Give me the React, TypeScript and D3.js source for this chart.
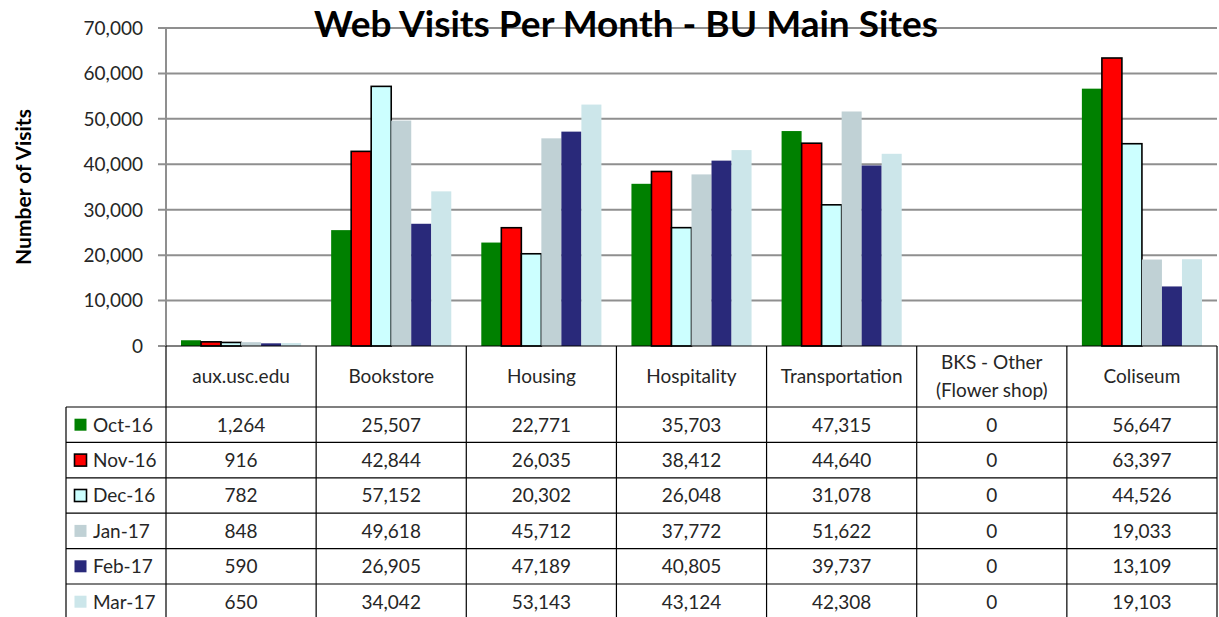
import React from "react";
import * as d3 from "d3";

const categories = ["aux.usc.edu", "Bookstore", "Housing", "Hospitality", "Transportation", "BKS - Other\n(Flower shop)", "Coliseum"];
const months = ["Oct-16", "Nov-16", "Dec-16", "Jan-17", "Feb-17", "Mar-17"];
const oct16 = [1264, 25507, 22771, 35703, 47315, 0, 56647];
const nov16 = [916, 42844, 26035, 38412, 44640, 0, 63397];
const dec16 = [782, 57152, 20302, 26048, 31078, 0, 44526];
const jan17 = [848, 49618, 45712, 37772, 51622, 0, 19033];
const feb17 = [590, 26905, 47189, 40805, 39737, 0, 13109];
const mar17 = [650, 34042, 53143, 43124, 42308, 0, 19103];
const yTicks = [0, 10000, 20000, 30000, 40000, 50000, 60000, 70000];
const colors = ["#008000", "#FF0000", "#CCFFFF", "#C0D1D5", "#29297A", "#CCE6EA"];
const outlined = [false, true, true, false, false, false];

const series = [oct16, nov16, dec16, jan17, feb17, mar17];

export default function App() {
  const W = 1219, H = 617;
  const plotL = 166, plotR = 1217, plotT = 28, plotB = 346;
  const tableL = 66;
  const headerB = 407;
  const rowH = 35.4;
  const font = "Lato, 'Open Sans', sans-serif";

  const x0 = d3.scaleBand<string>().domain(categories).range([plotL, plotR]).padding(0);
  const bw = x0.bandwidth();
  const x1 = d3.scaleBand<string>().domain(months).range([bw * 0.1, bw * 0.9]).padding(0);
  const y = d3.scaleLinear().domain([0, 70000]).range([plotB, plotT]);
  const fmt = d3.format(",");

  const rowTop = (i: number) => headerB + i * rowH;

  return (
    <svg width={W} height={H} style={{ position: "absolute", left: 0, top: 0, background: "#fff" }} fontFamily={font}>
      {/* gridlines */}
      {yTicks.map((t) => (
        <g key={t}>
          {t > 0 && <line x1={158} x2={plotR} y1={y(t)} y2={y(t)} stroke="#8f8f8f" strokeWidth={2} />}
          {t === 0 && <line x1={158} x2={plotL} y1={y(t)} y2={y(t)} stroke="#8f8f8f" strokeWidth={2} />}
          <text x={143} y={y(t)} dy="0.36em" textAnchor="end" fontSize={19} fill="#262626">{fmt(t)}</text>
        </g>
      ))}
      {/* y axis line */}
      <line x1={plotL} x2={plotL} y1={plotT} y2={plotB} stroke="#8f8f8f" strokeWidth={2} />

      {/* title */}
      <text x={626} y={37} textAnchor="middle" fontSize={37} fontWeight="bold" fill="#000">Web Visits Per Month - BU Main Sites</text>

      {/* y label */}
      <text transform={`translate(31,187) rotate(-90)`} textAnchor="middle" fontSize={21} fontWeight="bold" fill="#000">Number of Visits</text>

      {/* bars */}
      {categories.map((c, ci) => (
        <g key={c} transform={`translate(${x0(c)},0)`}>
          {series.map((s, si) => {
            const v = s[ci];
            if (v <= 0) return null;
            const yy = y(v);
            return (
              <rect
                key={si}
                x={x1(months[si])}
                y={yy}
                width={x1.bandwidth()}
                height={plotB - yy}
                fill={colors[si]}
                stroke={outlined[si] ? "#000" : "none"}
                strokeWidth={outlined[si] ? 1.6 : 0}
              />
            );
          })}
        </g>
      ))}

      {/* table */}
      <g stroke="#000" strokeWidth={1.2}>
        <line x1={plotL} x2={plotR} y1={plotB} y2={plotB} />
        {d3.range(months.length + 1).map((i) => (
          <line key={"h" + i} x1={tableL} x2={plotR} y1={rowTop(i)} y2={rowTop(i)} />
        ))}
        <line x1={tableL} x2={tableL} y1={headerB} y2={H + 5} />
        {categories.map((c) => (
          <line key={"v" + c} x1={x0(c)!} x2={x0(c)!} y1={plotB} y2={H + 5} />
        ))}
        <line x1={plotR} x2={plotR} y1={plotB} y2={H + 5} />
      </g>

      {/* header labels */}
      {categories.map((c) => {
        const lines = c.split("\n");
        const cx = x0(c)! + bw / 2;
        const cy = (plotB + headerB) / 2;
        return (
          <text key={"t" + c} x={cx} textAnchor="middle" fontSize={19} fill="#262626">
            {lines.map((l, li) => (
              <tspan key={li} x={cx} y={cy + (li - (lines.length - 1) / 2) * 28} dy="0.36em">{l}</tspan>
            ))}
          </text>
        );
      })}

      {/* rows */}
      {months.map((m, mi) => {
        const cy = rowTop(mi) + rowH / 2;
        return (
          <g key={m}>
            <rect x={74.5} y={cy - 6} width={12} height={12} fill={colors[mi]} stroke={outlined[mi] ? "#000" : "none"} strokeWidth={outlined[mi] ? 1.6 : 0} />
            <text x={93} y={cy} dy="0.36em" fontSize={19} fill="#262626">{m}</text>
            {categories.map((c, ci) => (
              <text key={c} x={x0(c)! + bw / 2} y={cy} dy="0.36em" textAnchor="middle" fontSize={19} fill="#262626">
                {fmt(series[mi][ci])}
              </text>
            ))}
          </g>
        );
      })}
    </svg>
  );
}
